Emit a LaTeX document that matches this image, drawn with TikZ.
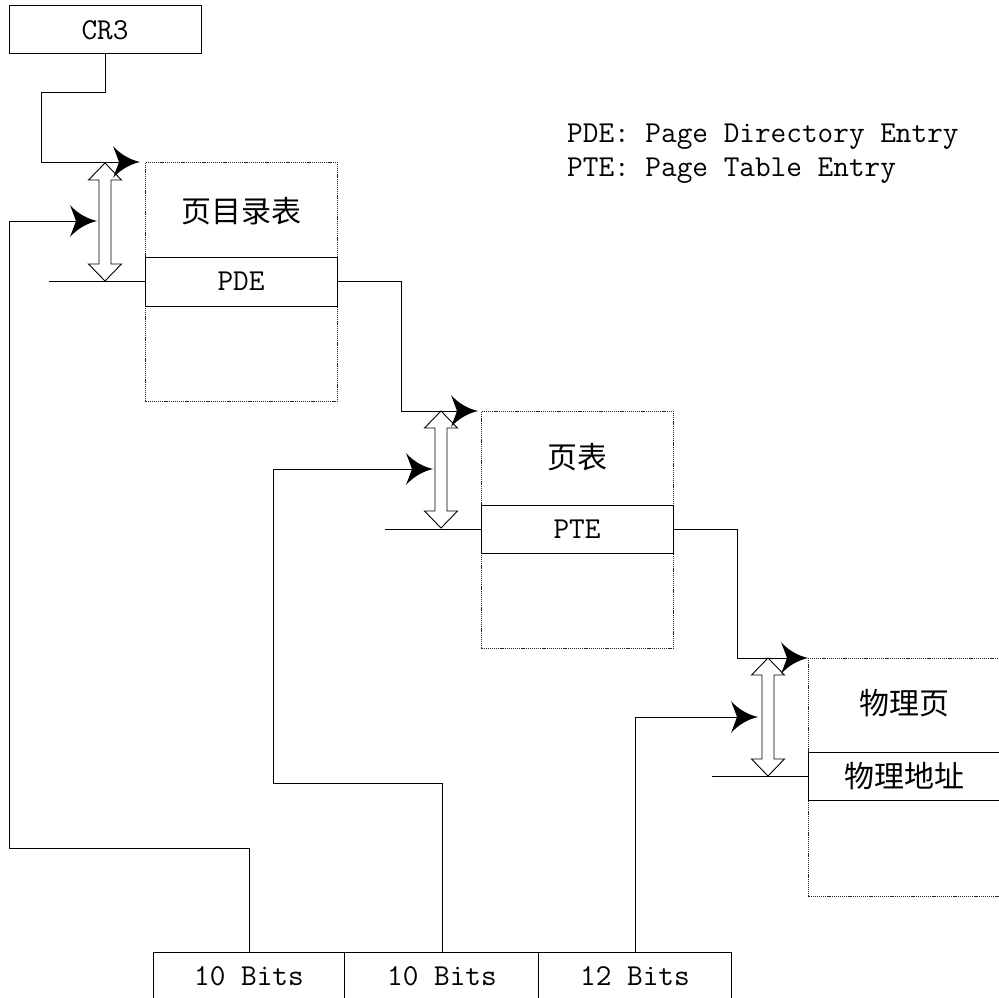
\documentclass[tikz,border=0pt]{standalone}
\usepackage{fontspec}
\newfontfamily\cjk{Noto Sans CJK SC}
\usetikzlibrary{arrows.meta}
\newcommand\latfont{\ttfamily\fontsize{30.4}{36}\selectfont}
\newcommand\zhfont{\cjk\fontsize{30}{36}\selectfont}
\newcommand\hollowdbl[3]{%
  \draw[dblarr] (#1,#2) -- ++(16.5,17) -- ++(-10.5,0) -- (#1+6,#3-17) -- ++(10.5,0)
    -- (#1,#3) -- ++(-16.5,-17) -- ++(10.5,0) -- (#1-6,#2+17) -- ++(-10.5,0) -- cycle;}
\pgfdeclarearrow{
  name=CurvedKite,
  setup code={
    \pgfarrowssettipend{0pt}
    \pgfarrowssetlineend{-18pt}
    \pgfarrowssetbackend{-27pt}
    \pgfarrowssetvisualbackend{-21pt}
    \pgfarrowsupperhullpoint{-27pt}{16pt}
    \pgfarrowsupperhullpoint{0pt}{0pt}
  },
  drawing code={
    \pgfpathmoveto{\pgfpoint{0pt}{0pt}}
    \pgfpathcurveto{\pgfpoint{-9pt}{2pt}}{\pgfpoint{-19pt}{7pt}}{\pgfpoint{-27pt}{16pt}}
    \pgfpathcurveto{\pgfpoint{-24pt}{8pt}}{\pgfpoint{-22pt}{3pt}}{\pgfpoint{-21pt}{0pt}}
    \pgfpathcurveto{\pgfpoint{-22pt}{-3pt}}{\pgfpoint{-24pt}{-8pt}}{\pgfpoint{-27pt}{-16pt}}
    \pgfpathcurveto{\pgfpoint{-19pt}{-7pt}}{\pgfpoint{-9pt}{-2pt}}{\pgfpoint{0pt}{0pt}}
    \pgfpathclose
    \pgfusepathqfill
  }
}
\tikzset{
  conn/.style={line width=1pt, line join=miter},
  tipped/.style={conn, -{CurvedKite}},
  tbl/.style={draw, black!85, line width=0.8pt, dash pattern=on 1.2pt off 0.9pt,
    minimum width=192pt, inner sep=0pt, anchor=north west},
  rowbox/.style={draw, line width=1pt, minimum width=192pt, inner sep=0pt, font=\latfont},
  lat/.style={inner sep=0pt, font=\latfont},
  zh/.style={inner sep=0pt, font=\zhfont},
  bitbox/.style={draw, line width=1pt, minimum height=52pt, inner sep=0pt},
  dblarr/.style={draw, fill=white, line width=0.9pt, line join=miter},
}
\begin{document}
\begin{tikzpicture}[x=1pt,y=-1pt]
\useasboundingbox (0,0) rectangle (999,998);

% CR3 register
\node[draw, line width=1pt, minimum width=192pt, minimum height=48pt, inner sep=0pt, font=\latfont] (cr3) at (105,30) {CR3};

% legend
\node[lat, anchor=base west] (leg1) at (567,142) {PDE: Page Directory Entry};
\node[lat, anchor=base west] (leg2) at (567,176) {PTE: Page Table Entry};

% page directory
\node[tbl, minimum height=239pt] (pd) at (145,162) {};
\node[zh] (pdtitle) at (241,211) {页目录表};
\node[rowbox, minimum height=49pt] (pde) at (241,281.5) {PDE};

% page table
\node[tbl, minimum width=192pt, minimum height=237pt] (pt) at (481,411) {};
\node[zh] (pttitle) at (577,457) {页表};
\node[rowbox, minimum height=48pt] (pte) at (577,529) {PTE};

% physical page
\node[tbl, minimum height=238pt] (pp) at (808,658) {};
\node[zh] (pptitle) at (904,703) {物理页};
\node[rowbox, minimum height=48pt, font=\zhfont] (ppa) at (904,776) {物理地址};

% linear address bits
\node[bitbox, minimum width=191pt] (b1) at (248.5,978) {};
\node[bitbox, minimum width=194pt] (b2) at (441,978) {};
\node[bitbox, minimum width=193pt] (b3) at (634.5,978) {};
\node[lat, anchor=base] (t1) at (249,985) {10 Bits};
\node[lat, anchor=base] (t2) at (442,985) {10 Bits};
\node[lat, anchor=base] (t3) at (635,985) {12 Bits};

% hollow double arrows
\hollowdbl{105}{163}{281}
\hollowdbl{441}{411}{528}
\hollowdbl{768}{658}{776}

% named end points
\coordinate (pdin) at (140,162);
\coordinate (ptin) at (478,411);
\coordinate (ppin) at (808,658);
\coordinate (d1) at (97,221);
\coordinate (d2) at (433,469);
\coordinate (d3) at (758,717);
\coordinate (s1) at (49,281.5);
\coordinate (s2) at (385,529);
\coordinate (s3) at (712,776);

% base pointers
\draw[tipped] (cr3.south) |- (41,93) |- (pdin);
\draw[tipped] (pde.east) -| (401,411) -- (ptin);
\draw[tipped] (pte.east) -| (737,658) -- (ppin);

% offsets from the linear address
\draw[tipped] (b1.north -| t1) |- (9,848) |- (d1);
\draw[tipped] (b2.north -| t2) |- (273,783) |- (d2);
\draw[tipped] (b3.north -| t3) |- (d3);

% entry stubs
\draw[conn] (s1) -- (pde.west);
\draw[conn] (s2) -- (pte.west);
\draw[conn] (s3) -- (ppa.west);
\end{tikzpicture}
\end{document}
